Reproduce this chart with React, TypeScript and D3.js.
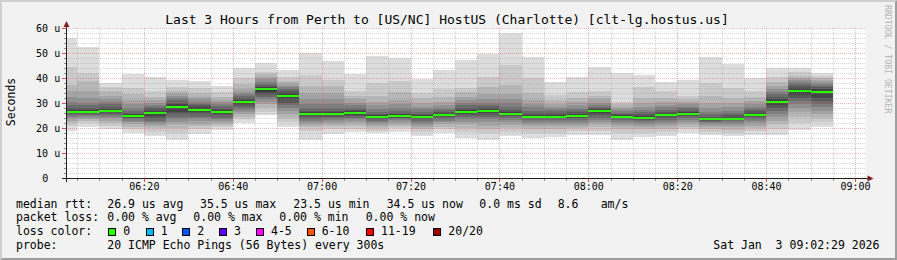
import React from "react";
import * as d3 from "d3";

const W = 897;
const H = 260;

const titleText = "Last 3 Hours from Perth to [US/NC] HostUS (Charlotte) [clt-lg.hostus.us]";
const startTime = new Date(2026, 0, 3, 6, 2, 29);
const endTime = new Date(2026, 0, 3, 9, 2, 29);

// end time (HH:MM) of each 5-minute step
const stepEnds = [
  "06:05", "06:10", "06:15", "06:20", "06:25", "06:30", "06:35", "06:40", "06:45", "06:50",
  "06:55", "07:00", "07:05", "07:10", "07:15", "07:20", "07:25", "07:30", "07:35", "07:40",
  "07:45", "07:50", "07:55", "08:00", "08:05", "08:10", "08:15", "08:20", "08:25", "08:30",
  "08:35", "08:40", "08:45", "08:50", "08:55",
];

const medians = [
  26.5, 26.5, 26.9, 24.9, 26.1, 28.3, 27.3, 26.5, 30.4, 35.5,
  32.9, 25.6, 25.6, 26.0, 24.5, 24.9, 24.5, 25.2, 26.4, 26.8,
  25.7, 24.5, 24.5, 24.9, 26.8, 24.4, 24.1, 25.2, 25.7, 23.5,
  23.6, 25.2, 30.4, 34.8, 34.5,
];

// 20 sorted ping rtts per step
const pings: number[][] = [
  [18.9, 21.0, 22.0, 23.0, 23.8, 24.5, 25.0, 25.5, 26.0, 26.3, 26.7, 27.2, 28.0, 29.0, 30.5, 32.5, 35.0, 37.2, 44.5, 55.9],
  [20.5, 22.0, 22.8, 23.5, 24.2, 24.8, 25.3, 25.8, 26.1, 26.3, 26.7, 27.2, 28.0, 29.0, 30.0, 32.0, 35.0, 39.0, 41.9, 52.3],
  [19.5, 21.0, 22.0, 23.0, 23.8, 24.5, 25.2, 25.8, 26.3, 26.7, 27.1, 27.6, 28.5, 29.5, 30.5, 31.5, 33.0, 35.0, 36.5, 37.9],
  [18.1, 19.5, 20.5, 21.5, 22.3, 23.0, 23.6, 24.1, 24.5, 24.8, 25.0, 25.5, 26.2, 27.0, 28.0, 29.5, 31.0, 33.5, 36.0, 41.6],
  [17.0, 18.5, 20.0, 20.8, 21.5, 22.3, 23.0, 23.8, 24.8, 25.8, 26.4, 27.0, 27.8, 28.5, 29.3, 30.0, 31.0, 32.5, 35.0, 40.3],
  [15.2, 18.0, 20.0, 21.5, 22.5, 23.5, 24.5, 25.5, 26.5, 27.8, 28.8, 29.5, 30.2, 31.0, 32.0, 33.0, 34.0, 35.0, 36.5, 39.2],
  [17.5, 19.5, 20.8, 21.8, 22.8, 23.8, 24.6, 25.5, 26.4, 27.0, 27.6, 28.3, 29.0, 29.8, 30.6, 31.5, 32.5, 34.0, 36.0, 38.8],
  [19.2, 20.5, 21.3, 22.0, 22.8, 23.5, 24.2, 25.0, 25.8, 26.3, 26.7, 27.3, 28.0, 28.8, 29.5, 30.3, 31.2, 32.5, 34.5, 36.9],
  [21.9, 23.5, 24.5, 25.5, 26.5, 27.3, 28.0, 28.8, 29.5, 30.1, 30.7, 31.3, 32.0, 32.8, 33.7, 34.5, 35.8, 37.5, 40.0, 43.9],
  [25.0, 26.5, 28.0, 29.5, 30.5, 31.5, 32.3, 33.2, 34.0, 34.8, 35.6, 36.2, 37.0, 37.8, 38.5, 39.5, 40.5, 41.5, 42.5, 45.9],
  [20.5, 22.5, 24.0, 25.5, 26.8, 28.0, 29.0, 30.0, 31.5, 32.5, 33.3, 34.0, 34.8, 35.5, 36.2, 37.0, 38.0, 39.0, 40.5, 43.2],
  [15.2, 19.0, 20.5, 21.3, 22.0, 22.8, 23.5, 24.3, 25.0, 25.4, 25.8, 26.3, 27.0, 28.0, 29.5, 31.5, 34.0, 37.0, 41.2, 49.9],
  [17.6, 19.5, 20.8, 21.8, 22.6, 23.3, 24.0, 24.6, 25.1, 25.4, 25.8, 26.3, 27.0, 28.0, 29.5, 31.5, 34.0, 37.0, 39.2, 46.9],
  [18.3, 19.8, 21.0, 22.0, 22.8, 23.5, 24.2, 24.8, 25.4, 25.8, 26.2, 26.7, 27.3, 28.0, 29.0, 30.0, 31.5, 33.0, 35.0, 41.6],
  [17.9, 19.0, 20.0, 21.0, 21.8, 22.5, 23.0, 23.6, 24.1, 24.4, 24.7, 25.2, 25.8, 26.5, 27.5, 29.0, 30.5, 33.0, 38.0, 48.8],
  [18.5, 20.0, 21.0, 21.8, 22.5, 23.1, 23.7, 24.2, 24.6, 24.8, 25.1, 25.5, 26.2, 27.0, 28.0, 29.5, 31.0, 34.5, 39.0, 47.9],
  [16.8, 18.5, 19.5, 20.5, 21.3, 22.0, 22.8, 23.5, 24.1, 24.4, 24.7, 25.1, 25.8, 26.5, 27.5, 28.5, 30.0, 32.0, 34.0, 39.5],
  [17.9, 19.5, 20.5, 21.5, 22.3, 23.0, 23.7, 24.3, 24.8, 25.1, 25.4, 25.9, 26.5, 27.3, 28.2, 29.3, 30.5, 32.5, 35.5, 43.2],
  [15.9, 18.5, 20.0, 21.5, 22.5, 23.5, 24.3, 25.0, 25.8, 26.2, 26.6, 27.2, 28.0, 29.0, 30.0, 31.0, 32.5, 34.5, 36.0, 47.2],
  [15.2, 18.0, 19.5, 21.0, 22.3, 23.5, 24.5, 25.3, 26.0, 26.6, 27.0, 27.6, 28.3, 29.0, 30.0, 31.5, 33.5, 36.5, 40.5, 49.6],
  [16.8, 18.5, 20.0, 21.3, 22.5, 23.3, 24.0, 24.7, 25.3, 25.6, 25.9, 26.4, 27.3, 28.5, 30.0, 31.5, 33.5, 37.2, 45.2, 58.1],
  [16.1, 18.0, 19.5, 20.8, 21.8, 22.6, 23.3, 23.9, 24.3, 24.4, 24.7, 25.2, 26.0, 27.0, 28.3, 29.5, 31.0, 34.0, 40.0, 48.3],
  [16.5, 18.0, 19.5, 20.8, 21.8, 22.6, 23.3, 23.9, 24.3, 24.4, 24.7, 25.2, 25.9, 26.7, 27.5, 28.5, 29.8, 31.2, 33.2, 38.3],
  [17.2, 18.8, 20.0, 21.0, 21.8, 22.6, 23.3, 23.9, 24.5, 24.8, 25.1, 25.6, 26.3, 27.1, 28.0, 29.0, 30.3, 32.0, 34.5, 40.5],
  [17.2, 19.0, 20.5, 21.5, 22.5, 23.4, 24.2, 25.0, 25.8, 26.5, 27.0, 27.5, 28.0, 28.6, 29.3, 30.2, 31.5, 33.0, 35.0, 44.5],
  [15.2, 18.0, 19.5, 20.8, 21.8, 22.5, 23.2, 23.8, 24.2, 24.3, 24.5, 25.0, 25.5, 26.0, 26.7, 27.5, 28.5, 29.5, 30.5, 41.9],
  [16.5, 18.2, 19.5, 20.5, 21.4, 22.2, 22.8, 23.4, 23.9, 24.0, 24.3, 24.8, 25.5, 26.3, 27.3, 28.5, 30.0, 32.0, 36.5, 41.2],
  [16.8, 18.5, 19.8, 20.8, 21.7, 22.5, 23.3, 24.0, 24.7, 25.0, 25.4, 25.9, 26.6, 27.4, 28.3, 29.3, 30.5, 32.0, 35.0, 38.5],
  [17.9, 19.5, 20.5, 21.5, 22.4, 23.2, 24.0, 24.7, 25.3, 25.6, 25.8, 26.3, 27.0, 27.8, 28.6, 29.5, 30.5, 31.5, 33.0, 39.2],
  [17.2, 18.5, 19.5, 20.5, 21.3, 22.0, 22.5, 22.9, 23.2, 23.4, 23.6, 23.9, 24.5, 25.5, 26.5, 28.0, 30.0, 33.0, 38.0, 48.5],
  [16.8, 18.2, 19.3, 20.3, 21.2, 22.0, 22.7, 23.1, 23.4, 23.5, 23.7, 24.2, 25.0, 26.0, 27.0, 28.5, 30.0, 32.0, 36.0, 45.5],
  [17.2, 18.8, 20.0, 21.0, 22.0, 22.8, 23.6, 24.3, 24.9, 25.1, 25.4, 25.9, 26.7, 27.5, 28.5, 29.5, 30.8, 32.3, 35.0, 39.9],
  [17.2, 19.5, 21.5, 23.0, 24.5, 25.8, 27.0, 28.0, 29.0, 30.0, 30.8, 31.6, 32.5, 33.5, 34.5, 35.5, 37.0, 38.5, 40.5, 43.9],
  [19.1, 22.0, 24.5, 26.5, 28.0, 29.5, 30.8, 32.0, 33.3, 34.4, 35.2, 36.0, 36.8, 37.6, 38.4, 39.3, 40.2, 41.0, 42.5, 44.1],
  [20.5, 22.5, 24.0, 25.5, 27.0, 28.3, 29.5, 30.7, 32.0, 34.0, 34.8, 35.5, 36.3, 37.0, 37.8, 38.5, 39.3, 40.0, 41.0, 41.9],
];

const xTickLabels = ["06:20", "06:40", "07:00", "07:20", "07:40", "08:00", "08:20", "08:40", "09:00"];
const yTickValues = [0, 10, 20, 30, 40, 50, 60];
const yTickLabels = ["0\u00a0\u00a0", "10 u", "20 u", "30 u", "40 u", "50 u", "60 u"];

const legendMedian = [
  { x: 16, t: "median rtt:" },
  { x: 107.3, t: "26.9 us avg" },
  { x: 200, t: "35.5 us max" },
  { x: 293.3, t: "23.5 us min" },
  { x: 386.7, t: "34.5 us now" },
  { x: 479.3, t: "0.0 ms sd" },
  { x: 557.7, t: "8.6" },
  { x: 600.7, t: "am/s" },
];
const legendLoss = [
  { x: 16, t: "packet loss:" },
  { x: 107.3, t: "0.00 % avg" },
  { x: 193.3, t: "0.00 % max" },
  { x: 279.3, t: "0.00 % min" },
  { x: 365.7, t: "0.00 % now" },
];
const lossColorLabels = ["0", "1", "2", "3", "4-5", "6-10", "11-19", "20/20"];
const lossColors = ["#26ff00", "#00b8ff", "#0059ff", "#5e00ff", "#ff00ff", "#ff5500", "#ff0000", "#a10000"];
const lossBoxX = [108.3, 145.7, 182.3, 219, 256, 306.7, 366, 433.3];
const probeText = "20 ICMP Echo Pings (56 Bytes) every 300s";
const dateText = "Sat Jan\u00a0\u00a03 09:02:29 2026";

const MONO = "'DejaVu Sans Mono', monospace";

function parseHM(s: string): Date {
  const [h, m] = s.split(":").map(Number);
  return new Date(2026, 0, 3, h, m, 0);
}

export default function App() {
  const x = d3.scaleTime().domain([startTime, endTime]).range([66, 866]);
  const y = d3.scaleLinear().domain([0, 60]).range([178, 28]);
  const px = (v: number) => Math.round(v) + 0.5;

  const minorTimes = d3.timeMinute.every(5)!.range(startTime, endTime).filter((d) => d.getMinutes() % 20 !== 0);
  const majorTimes = xTickLabels.map(parseHM);
  const minorVals = d3.range(2, 60, 2).filter((v) => v % 10 !== 0);
  const majorVals = yTickValues.filter((v) => v > 0);

  const smoke: any[] = [];
  stepEnds.forEach((s, i) => {
    const tEnd = parseHM(s);
    const tStart = new Date(tEnd.getTime() - 300000);
    const x0 = Math.round(x(tStart < startTime ? startTime : tStart));
    const x1 = Math.round(x(tEnd));
    const p = pings[i];
    for (let k = 0; k < 10; k++) {
      const g = Math.floor((190 / 10) * (10 - (k + 1))) + 50;
      const lo = p[k];
      const hi = p[19 - k];
      const yt = Math.round(y(hi));
      const yb = Math.round(y(lo));
      smoke.push(
        <rect key={`s${i}-${k}`} x={x0} y={yt} width={x1 - x0} height={Math.max(0, yb - yt)} fill={`rgb(${g},${g},${g})`} />
      );
    }
    const ym = Math.round(y(medians[i]));
    smoke.push(<rect key={`m${i}`} x={x0} y={ym - 1} width={x1 - x0} height={2} fill="#26ff00" />);
  });

  const pre = { whiteSpace: "pre" as const };

  return (
    <svg width={W} height={H} style={{ position: "absolute", left: 0, top: 0 }} fontFamily={MONO}>
      <rect x={0} y={0} width={W} height={H} fill="#f2f2f2" />
      {/* 3d frame */}
      <polygon points={`0,0 ${W},0 ${W - 2},2 2,2 2,${H - 2} 0,${H}`} fill="#cfcfcf" />
      <polygon points={`${W},0 ${W},${H} 0,${H} 2,${H - 2} ${W - 2},${H - 2} ${W - 2},2`} fill="#9e9e9e" />
      {/* canvas */}
      <rect x={66} y={28} width={800} height={150} fill="#ffffff" />
      <g shapeRendering="crispEdges">{smoke}</g>
      {/* grid */}
      <g fill="none">
        {minorTimes.map((t, i) => (
          <line key={`vx${i}`} x1={px(x(t))} x2={px(x(t))} y1={28} y2={178} stroke="rgba(143,143,143,0.75)" strokeWidth={0.5} strokeDasharray="1,1" />
        ))}
        {minorVals.map((v, i) => (
          <line key={`hy${i}`} x1={66} x2={866} y1={px(y(v))} y2={px(y(v))} stroke="rgba(143,143,143,0.75)" strokeWidth={0.5} strokeDasharray="1,1" />
        ))}
        {majorTimes.map((t, i) => (
          <line key={`VX${i}`} x1={px(x(t))} x2={px(x(t))} y1={28} y2={178} stroke="rgba(222,79,79,0.6)" strokeWidth={0.7} strokeDasharray="1,1" />
        ))}
        {majorVals.map((v, i) => (
          <line key={`HY${i}`} x1={66} x2={866} y1={px(y(v))} y2={px(y(v))} stroke="rgba(222,79,79,0.6)" strokeWidth={0.7} strokeDasharray="1,1" />
        ))}
      </g>
      {/* ticks */}
      <g shapeRendering="crispEdges">
        {minorTimes.map((t, i) => (
          <line key={`tx${i}`} x1={px(x(t))} x2={px(x(t))} y1={178} y2={181} stroke="#8f8f8f" />
        ))}
        {majorTimes.map((t, i) => (
          <line key={`TX${i}`} x1={px(x(t))} x2={px(x(t))} y1={178} y2={182} stroke="#de4f4f" />
        ))}
        {minorVals.map((v, i) => (
          <line key={`ty${i}`} x1={64} x2={66} y1={px(y(v))} y2={px(y(v))} stroke="#8f8f8f" />
        ))}
        {yTickValues.map((v, i) => (
          <line key={`TY${i}`} x1={62} x2={66} y1={px(y(v))} y2={px(y(v))} stroke="#de4f4f" />
        ))}
      </g>
      {/* axes */}
      <g shapeRendering="crispEdges">
        <line x1={62} x2={869} y1={178.5} y2={178.5} stroke="#1f1f1f" />
        <line x1={66.5} x2={66.5} y1={182} y2={25} stroke="#1f1f1f" />
      </g>
      <polygon points="867.5,175.5 867.5,181.5 873.5,178.5" fill="#801f1f" />
      <polygon points="63.5,27 69.5,27 66.5,21" fill="#801f1f" />
      {/* y labels */}
      {yTickValues.map((v, i) => (
        <text key={`yl${i}`} x={60.2} y={y(v) + 4} fontSize={10} textAnchor="end" fill="#000" style={pre}>
          {yTickLabels[i]}
        </text>
      ))}
      {/* x labels */}
      {majorTimes.map((t, i) => (
        <text key={`xl${i}`} x={x(t) + 0.5} y={190} fontSize={10} textAnchor="middle" fill="#000">
          {xTickLabels[i]}
        </text>
      ))}
      {/* title */}
      <text x={447} y={24} fontSize={13} textAnchor="middle" fill="#000">
        {titleText}
      </text>
      <text transform="translate(15,102) rotate(-90)" fontSize={11.5} textAnchor="middle" fill="#000">
        Seconds
      </text>
      <text transform="translate(885,5) rotate(90)" fontSize={8.2} fill="#b4b4b4" style={pre}>
        RRDTOOL / TOBI OETIKER
      </text>
      {/* legend */}
      <g fontSize={11.5} fill="#000">
        {legendMedian.map((d, i) => (
          <text key={`lm${i}`} x={d.x} y={207.5} style={pre}>{d.t}</text>
        ))}
        {legendLoss.map((d, i) => (
          <text key={`ll${i}`} x={d.x} y={221.3} style={pre}>{d.t}</text>
        ))}
        <text x={16} y={235} style={pre}>loss color:</text>
        {lossColorLabels.map((l, i) => (
          <g key={`lc${i}`}>
            <rect x={Math.round(lossBoxX[i]) + 0.5} y={228.5} width={7} height={7} fill={lossColors[i]} stroke="#000" strokeWidth={1} />
            <text x={lossBoxX[i] + 15} y={235} style={pre}>{l}</text>
          </g>
        ))}
        <text x={16} y={249} style={pre}>probe:</text>
        <text x={107.3} y={249} style={pre}>{probeText}</text>
        <text x={713.3} y={249} style={pre}>{dateText}</text>
      </g>
    </svg>
  );
}
